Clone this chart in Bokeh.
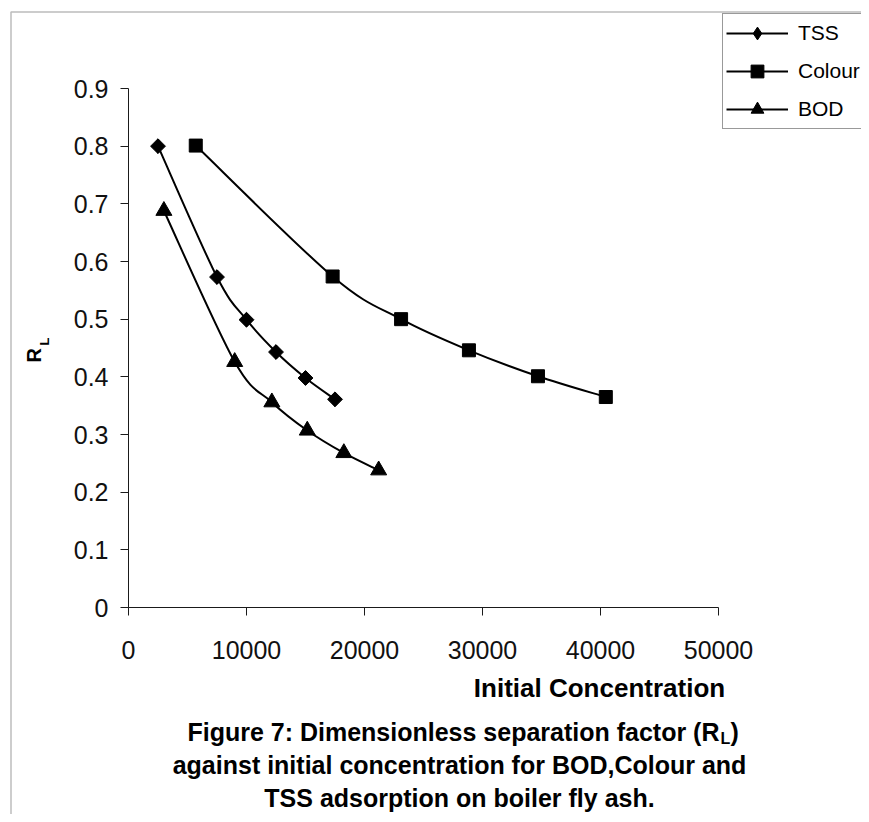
import numpy as np
from bokeh.plotting import figure
from bokeh.models import (Range1d, FixedTicker, Legend, LegendItem, Label,
                          BoxAnnotation)
from bokeh.embed import file_html
from bokeh.resources import INLINE

# ---------------- data ----------------
tss_x = [2500, 7500, 10000, 12500, 15000, 17500]
tss_rl = [0.800, 0.573, 0.499, 0.443, 0.398, 0.361]

colour_x = [5700, 17300, 23100, 28850, 34700, 40450]
colour_rl = [0.801, 0.574, 0.500, 0.446, 0.401, 0.365]

bod_x = [3000, 9000, 12150, 15150, 18250, 21200]
bod_rl = [0.688, 0.426, 0.356, 0.307, 0.268, 0.238]

series_names = ["TSS", "Colour", "BOD"]

x_ticks = [0, 10000, 20000, 30000, 40000, 50000]
x_tick_labels = ["0", "10000", "20000", "30000", "40000", "50000"]
y_ticks = [0, 0.1, 0.2, 0.3, 0.4, 0.5, 0.6, 0.7, 0.8, 0.9]
y_tick_labels = ["0", "0.1", "0.2", "0.3", "0.4", "0.5", "0.6", "0.7", "0.8", "0.9"]

x_title = "Initial Concentration"
y_title_main, y_title_sub = "R", "L"
caption_1a, caption_1b, caption_1c = "Figure 7: Dimensionless separation factor (R", "L", ")"
caption_2 = "against initial concentration for BOD,Colour and"
caption_3 = "TSS adsorption on boiler fly ash."

# ---------------- layout ----------------
W, H = 861, 814
FONT = "Liberation Sans"
X_LO, X_HI = 0, 50000          # axis extent (data)
Y_LO, Y_HI = 0, 0.9
PX_X_LO, PX_X_HI = 128, 718    # pixel positions of the axis ends
PX_Y_LO, PX_Y_HI = 607, 88

sx = (X_HI - X_LO) / (PX_X_HI - PX_X_LO)
sy = (Y_HI - Y_LO) / (PX_Y_LO - PX_Y_HI)
x_range = Range1d(X_LO - PX_X_LO * sx, X_LO + (W - PX_X_LO) * sx)
y_range = Range1d(Y_LO - (H - PX_Y_LO) * sy, Y_LO + PX_Y_LO * sy)

p = figure(width=W, height=H, x_range=x_range, y_range=y_range,
           output_backend="svg", toolbar_location=None,
           min_border=0, min_border_left=0, min_border_right=0,
           min_border_top=0, min_border_bottom=0)
p.grid.visible = False
p.outline_line_color = None
p.background_fill_color = "white"
p.border_fill_color = "white"

for ax in (p.xaxis[0], p.yaxis[0]):
    ax.fixed_location = 0
    ax.axis_line_color = "#1a1a1a"
    ax.axis_line_width = 1
    ax.major_tick_line_color = "#1a1a1a"
    ax.major_tick_out = 8
    ax.major_tick_in = 0
    ax.minor_tick_out = 0
    ax.minor_tick_in = 0
    ax.major_label_text_font = FONT
    ax.major_label_text_font_size = "25px"
    ax.major_label_text_color = "#111111"

p.xaxis.bounds = (X_LO, X_HI)
p.yaxis.bounds = (Y_LO, Y_HI)
p.xaxis.ticker = FixedTicker(ticks=x_ticks)
p.xaxis.major_label_overrides = dict(zip(x_ticks, x_tick_labels))
p.xaxis.major_label_standoff = 25
p.yaxis.ticker = FixedTicker(ticks=y_ticks)
p.yaxis.major_label_overrides = dict(zip(y_ticks, y_tick_labels))
p.yaxis.major_label_standoff = 12


def smooth(xs, ys):
    """Bezier control points (Catmull-Rom style) through the data points."""
    out = {}
    for key, v in (("x", xs), ("y", ys)):
        v = np.asarray(v, dtype=float)
        n = len(v)
        q = np.concatenate([[v[0]], v, [v[-1]]])
        out[key + "0"] = v[:-1]
        out[key + "1"] = v[1:]
        out["c" + key + "0"] = q[1:n] + (q[2:n + 1] - q[0:n - 1]) / 6.0
        out["c" + key + "1"] = q[2:n + 1] - (q[3:n + 2] - q[1:n]) / 6.0
    return out


items = []
specs = [
    (tss_x, tss_rl, dict(marker="square", size=10.5, angle=np.pi / 4), "diamond"),
    (colour_x, colour_rl, dict(marker="square", size=13), None),
    (bod_x, bod_rl, dict(marker="triangle", size=16), None),
]
for name, (xs, ys, mk, legend_marker) in zip(series_names, specs):
    b = smooth(xs, ys)
    rl = p.bezier(x0=b["x0"], y0=b["y0"], x1=b["x1"], y1=b["y1"],
                  cx0=b["cx0"], cy0=b["cy0"], cx1=b["cx1"], cy1=b["cy1"],
                  line_color="black", line_width=2)
    rs = p.scatter(xs, ys, fill_color="black", line_color="black", line_width=1, **mk)
    if legend_marker is not None:
        # same points drawn as Bokeh diamonds (they sit inside the rotated
        # squares) so that the legend swatch shows a diamond symbol
        rs = p.scatter(xs, ys, marker=legend_marker, size=14, fill_color="black",
                       line_color="black", line_width=1)
    items.append(LegendItem(label=name, renderers=[rl, rs]))

# Bokeh places "alphabetic" label anchors ~0.4 em above the drawn baseline
SHIFT = 0.4


def lab(text, X, Y, size, bold=False, align="left", angle=0.0):
    # X, Y: wanted baseline position (pixels from the figure's top-left corner)
    if angle == 0.0:
        Y = Y - SHIFT * size
    else:
        X = X - SHIFT * size
    p.add_layout(Label(x=X, y=H - Y, x_units="screen", y_units="screen",
                       text=text, text_font=FONT, text_font_size=f"{size}px",
                       text_font_style="bold" if bold else "normal",
                       text_color="black", text_align=align,
                       text_baseline="alphabetic", angle=angle))


# outer chart-area border (left and top edges visible)
p.add_layout(BoxAnnotation(left=10.5, right=W + 50, top=H - 11.5, bottom=-50,
                           left_units="screen", right_units="screen",
                           top_units="screen", bottom_units="screen",
                           fill_color=None, fill_alpha=0,
                           line_color="#222222", line_width=1.5))

legend = Legend(items=items, location=(722, H - 129))
legend.glyph_width = 62
legend.glyph_height = 32
legend.label_height = 32
legend.label_width = 90
legend.spacing = 6
legend.padding = 3
legend.margin = 0
legend.label_standoff = 10
legend.border_line_color = "#333333"
legend.border_line_width = 1
legend.background_fill_color = "white"
legend.background_fill_alpha = 1
legend.label_text_font = FONT
legend.label_text_font_size = "21px"
legend.label_text_color = "black"
p.add_layout(legend)

# axis titles
lab(x_title, 599, 698, 26, bold=True, align="center")
lab(y_title_main, 41, 362, 20, bold=True, angle=np.pi / 2)
lab(y_title_sub, 49.5, 345, 13, bold=True, angle=np.pi / 2)

# caption
lab(caption_1a, 719, 741, 25, bold=True, align="right")
lab(caption_1b, 720, 744, 16, bold=True)
lab(caption_1c, 730, 741, 25, bold=True)
lab(caption_2, 459, 774, 25, bold=True, align="center")
lab(caption_3, 459, 807, 25, bold=True, align="center")

open("out.html", "w").write(file_html(p, INLINE))
